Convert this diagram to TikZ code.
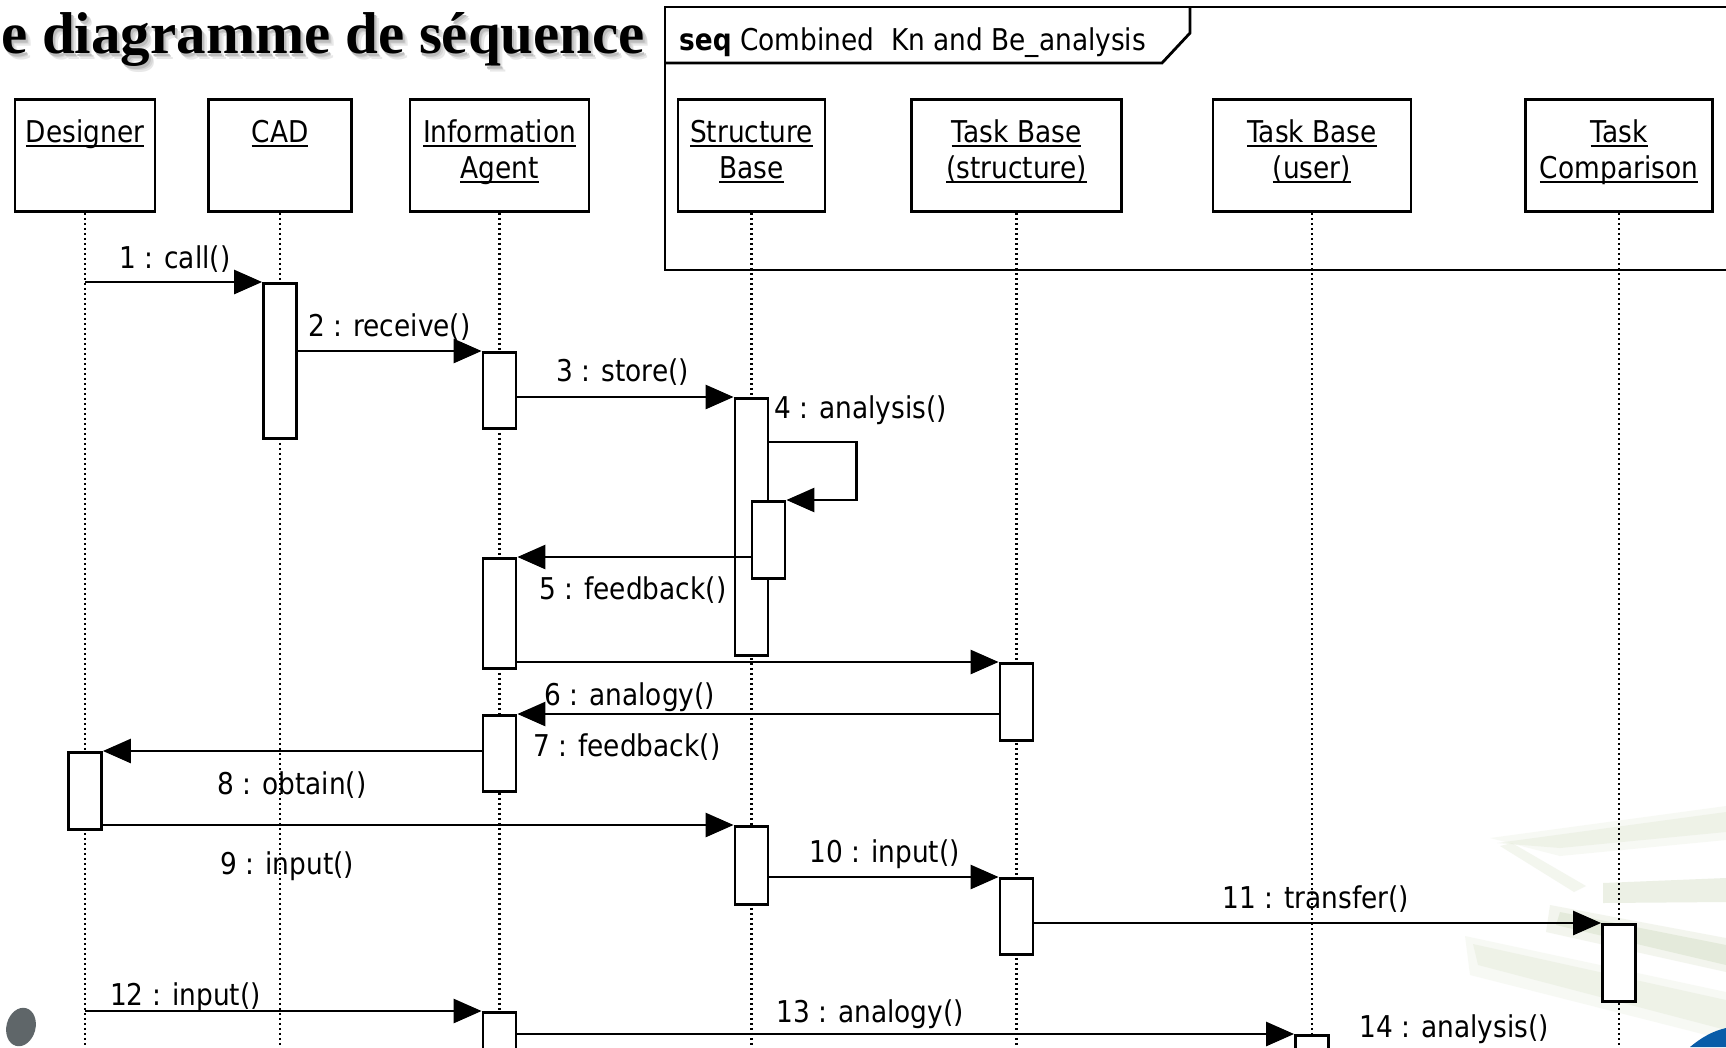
\documentclass[tikz,border=0pt]{standalone}
\usepackage{fontspec}
\setmainfont{DejaVu Sans}[FakeStretch=0.88]
\newfontfamily\titlefont{Liberation Serif}
\usetikzlibrary{arrows.meta,calc}

% underlined object name, rule just under the baseline
\newcommand\undl[1]{\setbox0\hbox{#1}\rlap{\rule[-4pt]{\wd0}{2pt}}\box0}
% bottom strut of a head box: a little deeper so the names sit higher
\newcommand\lowstrut{\rule[-14.8pt]{0pt}{25pt}}
% text with a soft shadow behind it, set as one box
\newcommand\shadowed[1]{%
  \rlap{\kern5pt\raisebox{-6pt}{\textcolor{black!9}{#1}}}%
  \rlap{\kern3.5pt\raisebox{-4.5pt}{\textcolor{black!16}{#1}}}%
  \rlap{\kern2pt\raisebox{-3pt}{\textcolor{black!26}{#1}}}%
  #1}

\definecolor{leafA}{RGB}{226,233,214}
\definecolor{leafB}{RGB}{208,219,190}
\definecolor{cornerblue}{RGB}{8,92,168}
\definecolor{dotgray}{RGB}{95,102,105}

\begin{document}
\begin{tikzpicture}[x=1pt,y=-1pt,line join=miter,
  txt/.style={font=\fontsize{30}{36}\selectfont},
  head/.style={draw,line width=2.8pt,fill=white,minimum height=112pt,inner sep=0pt,
    anchor=north,align=center,txt},
  act/.style={draw,line width=2.8pt,fill=white,minimum width=33pt,inner sep=0pt,anchor=north},
  life/.style={line width=2.3pt,dash pattern=on 2.4pt off 2.6pt},
  msg/.style={line width=2.7pt,-{Triangle[length=28pt,width=24pt]}},
  lbl/.style={anchor=base west,inner sep=0pt,txt},
  frame/.style={line width=2.8pt},
  titletext/.style={anchor=base west,inner sep=0pt,font=\titlefont\bfseries\fontsize{59}{64}\selectfont}]

\useasboundingbox (0,0) rectangle (1726,1047);
\clip (0,0) rectangle (1726,1047);
\fill[white] (0,0) rectangle (1726,1047);

% background ornaments, faint
\begin{scope}[opacity=0.4]
\fill[leafA] (1497,843) -- (1726,812) -- (1726,832) -- (1560,848) -- cycle;
\fill[leafA] (1500,846) -- (1512,843) -- (1586,886) -- (1574,892) -- cycle;
\fill[leafB] (1603,883) -- (1726,878) -- (1726,902) -- (1603,903) -- cycle;
\fill[leafB] (1560,912) -- (1726,945) -- (1726,965) -- (1556,925) -- cycle;
\fill[leafA] (1473,944) -- (1726,1000) -- (1726,1030) -- (1478,965) -- cycle;
\end{scope}
\begin{scope}[opacity=0.25]
\fill[leafA] (1490,838) -- (1726,806) -- (1726,840) -- (1560,856) -- cycle;
\fill[leafB] (1550,905) -- (1726,938) -- (1726,972) -- (1546,932) -- cycle;
\fill[leafA] (1465,936) -- (1726,992) -- (1726,1040) -- (1470,975) -- cycle;
\end{scope}
\fill[cornerblue] (1690,1047) .. controls (1702,1037) and (1713,1031) .. (1726,1028) -- (1726,1047) -- cycle;
\fill[dotgray] (21,1027) ellipse [x radius=14.5, y radius=19.5, rotate=-15];

% title
\node[titletext] (title) at (1,53) {\shadowed{e diagramme de séquence}};

% interaction frame with its name tab
\draw[frame] (665,7) rectangle (1760,270);
\draw[frame] (665,63) -- (1162,63) -- (1190,33) -- (1190,7);
\node[lbl] (framename) at (679,50) {\textbf{seq} Combined\ \ Kn and Be\_analysis};

% lifeline heads
\node[head,minimum width=140pt] (des) at (85,98)     {\undl{Designer}\strut\\\lowstrut};
\node[head,minimum width=143pt] (cad) at (280,98)    {\undl{CAD}\strut\\\lowstrut};
\node[head,minimum width=179pt] (inf) at (499.5,98)  {\undl{Information}\strut\\\undl{Agent}\lowstrut};
\node[head,minimum width=147pt] (str) at (751.5,98)  {\undl{Structure}\strut\\\undl{Base}\lowstrut};
\node[head,minimum width=210pt] (tbs) at (1016.5,98) {\undl{Task Base}\strut\\\undl{(structure)}\lowstrut};
\node[head,minimum width=198pt] (tbu) at (1312,98)   {\undl{Task Base}\strut\\\undl{(user)}\lowstrut};
\node[head,minimum width=187pt] (tco) at (1619,98)   {\undl{Task}\strut\\\undl{Comparison}\lowstrut};

% lifelines
\coordinate (floor) at (0,1052);
\foreach \o in {des,cad,inf,str,tbs,tbu,tco}
  \draw[life] (\o.south) -- (\o.south |- floor);

% activation bars
\node[act,minimum height=155pt] (cad1) at (cad.south |- 0,282) {};
\node[act,minimum height=76pt]  (inf1) at (inf.south |- 0,351) {};
\node[act,minimum height=257pt] (str1) at (str.south |- 0,397) {};
\node[act,minimum height=77pt]  (str1n) at ($(str.south |- 0,500)+(17,0)$) {};
\node[act,minimum height=110pt] (inf2) at (inf.south |- 0,557) {};
\node[act,minimum height=77pt]  (tbs1) at (tbs.south |- 0,662) {};
\node[act,minimum height=76pt]  (inf3) at (inf.south |- 0,714) {};
\node[act,minimum height=77pt]  (des1) at (des.south |- 0,751) {};
\node[act,minimum height=78pt]  (str2) at (str.south |- 0,825) {};
\node[act,minimum height=76pt]  (tbs2) at (tbs.south |- 0,877) {};
\node[act,minimum height=77pt]  (tco1) at (tco.south |- 0,923) {};
\node[act,minimum height=100pt] (inf4) at (inf.south |- 0,1011) {};
\node[act,minimum height=100pt] (tbu1) at (tbu.south |- 0,1034) {};

% messages
\draw[msg] (des.south |- cad1.north) -- (cad1.north west);
\draw[msg] (cad1.east |- inf1.north) -- (inf1.north west);
\draw[msg] (inf1.east |- str1.north) -- (str1.north west);
\draw[msg] ($(str1.north east)+(0,45)$) -- ++(87,0) |- (str1n.north east);
\draw[msg] (str1n.west |- inf2.north) -- (inf2.north east);
\draw[msg] (inf2.east |- tbs1.north) -- (tbs1.north west);
\draw[msg] (tbs1.west |- inf3.north) -- (inf3.north east);
\draw[msg] (inf3.west |- des1.north) -- (des1.north east);
\draw[msg] (des1.east |- str2.north) -- (str2.north west);
\draw[msg] (str2.east |- tbs2.north) -- (tbs2.north west);
\draw[msg] (tbs2.east |- tco1.north) -- (tco1.north west);
\draw[msg] (des.south |- inf4.north) -- (inf4.north west);
\draw[msg] (inf4.east |- tbu1.north) -- (tbu1.north west);

% message labels
\node[lbl] (l1)  at (119,268)  {1 : call()};
\node[lbl] (l2)  at (308,336)  {2 : receive()};
\node[lbl] (l3)  at (556,381)  {3 : store()};
\node[lbl] (l4)  at (774,418)  {4 : analysis()};
\node[lbl] (l5)  at (539,599)  {5 : feedback()};
\node[lbl] (l6)  at (544,705)  {6 : analogy()};
\node[lbl] (l7)  at (533,756)  {7 : feedback()};
\node[lbl] (l8)  at (217,794)  {8 : obtain()};
\node[lbl] (l9)  at (220,874)  {9 : input()};
\node[lbl] (l10) at (809,862)  {10 : input()};
\node[lbl] (l11) at (1222,908) {11 : transfer()};
\node[lbl] (l12) at (110,1005) {12 : input()};
\node[lbl] (l13) at (776,1022) {13 : analogy()};
\node[lbl] (l14) at (1359,1037) {14 : analysis()};
\end{tikzpicture}
\end{document}
